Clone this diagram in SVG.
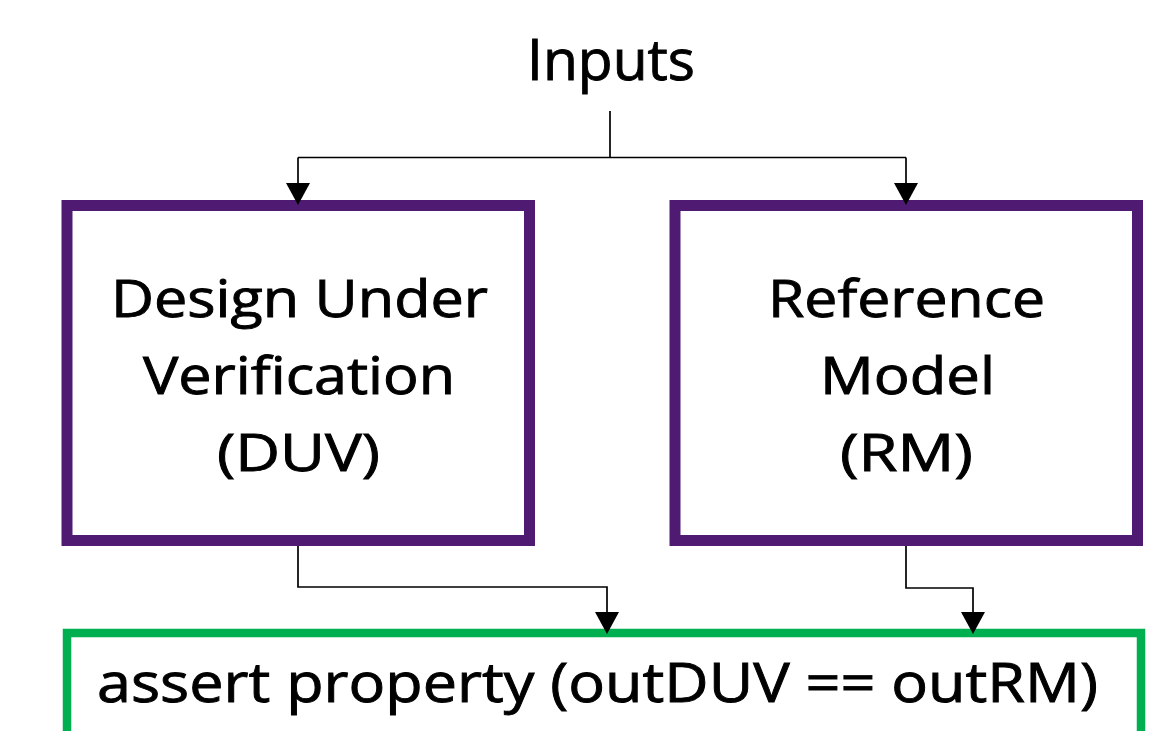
<svg xmlns="http://www.w3.org/2000/svg" xmlns:xlink="http://www.w3.org/1999/xlink" width="1151" height="731" viewBox="0 0 1151 731">
  <style>
    .lbl { font-family: "Open Sans", Lato, "Liberation Sans", sans-serif; fill: #000; stroke: #000; stroke-width: 0.9; text-anchor: middle; font-variant-ligatures: none; }
    .box { fill: #fff; stroke: #4f1b72; stroke-width: 11; }
    .check { fill: #fff; stroke: #00b050; stroke-width: 8.5; }
    .wire { fill: none; stroke: #000; stroke-width: 1.7; }
  </style>
  <defs>
    <!-- downward arrowhead, tip at the origin -->
    <path id="head" d="M-12,-22 L12,-22 L0,0 Z" fill="#000"/>
  </defs>
  <rect width="1151" height="731" fill="#fff"/>

  <g id="inputs">
    <text class="lbl" x="611" y="80" font-size="57" textLength="168" lengthAdjust="spacingAndGlyphs">Inputs</text>
  </g>

  <g id="duv">
    <rect class="box" x="67" y="205.5" width="462.5" height="335"/>
    <text class="lbl" x="299.5" y="317" font-size="51" textLength="377" lengthAdjust="spacingAndGlyphs">Design Under</text>
    <text class="lbl" x="299" y="394" font-size="51" textLength="312" lengthAdjust="spacingAndGlyphs">Verification</text>
    <text class="lbl" x="298.5" y="470.5" font-size="51" textLength="163" lengthAdjust="spacingAndGlyphs">(DUV)</text>
  </g>

  <g id="rm">
    <rect class="box" x="675" y="205.5" width="462.5" height="335"/>
    <text class="lbl" x="906.5" y="317" font-size="51" textLength="277" lengthAdjust="spacingAndGlyphs">Reference</text>
    <text class="lbl" x="907.5" y="394" font-size="51" textLength="175" lengthAdjust="spacingAndGlyphs">Model</text>
    <text class="lbl" x="906.5" y="470.5" font-size="51" textLength="133" lengthAdjust="spacingAndGlyphs">(RM)</text>
  </g>

  <g id="assertion">
    <rect class="check" x="67" y="633" width="1074" height="200"/>
    <text class="lbl" x="597.5" y="702" font-size="54.5" textLength="1001" lengthAdjust="spacingAndGlyphs">assert property (outDUV == outRM)</text>
  </g>

  <g id="connectors">
    <path class="wire" d="M610,111 V157.5 M298,157.5 H906"/>
    <path class="wire" d="M298,157.5 V190"/>
    <path class="wire" d="M906,157.5 V190"/>
    <path class="wire" d="M298,546 V587 H607 V620"/>
    <path class="wire" d="M906,546 V588 H973 V620"/>
    <use href="#head" x="298" y="205"/>
    <use href="#head" x="906" y="205"/>
    <use href="#head" x="607" y="634"/>
    <use href="#head" x="973" y="634"/>
  </g>
</svg>
